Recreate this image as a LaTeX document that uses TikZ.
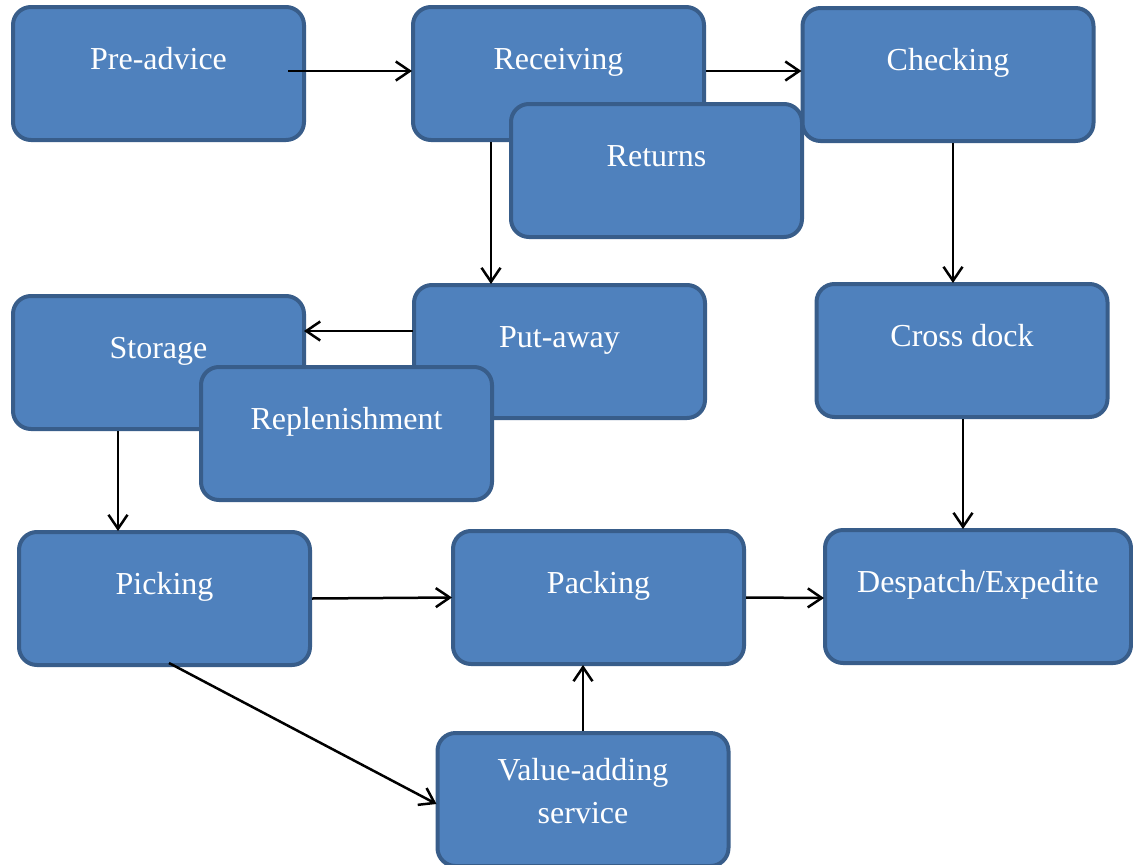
\documentclass[tikz,border=0pt]{standalone}
\usepackage{fontspec}
\setmainfont{Liberation Serif}
\usetikzlibrary{arrows.meta,calc}
\definecolor{boxfill}{HTML}{4F81BD}
\definecolor{boxline}{HTML}{385D8A}
\tikzset{
  procbox/.style={draw=boxline, fill=boxfill, line width=4pt, rounded corners=18pt,
    inner sep=0pt, minimum width=291pt, text height=62pt, text depth=71pt,
    text=white, anchor=base, font=\fontsize{32}{43}\selectfont},
  arr/.style={draw=black, line width=2.5pt, -{Straight Barb[length=14pt,width=19pt]}}
}
\begin{document}
\begin{tikzpicture}[x=1pt,y=-1pt]
\clip (0,0) rectangle (1133,865);
\fill[white] (0,0) rectangle (1133,865);
% boxes (position = text baseline, box top + 64)
\node[procbox] (pre) at (158.5,69) {Pre-advice};
\node[procbox] (rec) at (558.5,69) {Receiving};
\node[procbox] (ret) at (656.5,166) {Returns};
\node[procbox] (chk) at (948,70) {Checking};
\node[procbox] (put) at (559.5,347) {Put-away};
\node[procbox] (sto) at (158.5,358) {Storage};
\node[procbox] (rep) at (346.5,429) {Replenishment};
\node[procbox] (crs) at (962,346) {Cross dock};
\node[procbox] (pick) at (164.5,594) {Picking};
\node[procbox] (pack) at (598.5,593) {Packing};
\node[procbox, minimum width=306pt] (desp) at (978,592) {Despatch/Expedite};
\node[procbox, text height=47pt, text depth=86pt] (val) at (583,780)
  {\begin{tabular}[t]{@{}c@{}}Value-adding\\service\end{tabular}};
% connectors
\draw[arr] ($(pre.east)+(-18,-2.5)$) -- ($(rec.west)+(1,-2.5)$);
\draw[arr] ($(rec.east)+(0,-2.5)$) -- ($(chk.west)+(1,-3.5)$);
\draw[arr] ($(rec.south)+(-67.5,0)$) -- ($(put.north)+(-68.5,1)$);
\draw[arr] ($(chk.south)+(5,0)$) -- ($(crs.north)+(-9,1)$);
\draw[arr] ($(put.west)+(1,-20.5)$) -- ($(sto.east)+(-2,-31.5)$);
\draw[arr] ($(sto.south)+(-40.5,0)$) -- ($(pick.north)+(-46.5,1)$);
\draw[arr] ($(crs.south)+(1,0)$) -- ($(desp.north)+(-15,1)$);
\draw[arr] (pick.east) -- ($(pack.west)+(1,0)$);
\draw[arr] (pack.east) -- ($(desp.west)+(1,1.5)$);
\draw[arr] (val.north) -- ($(pack.south)+(-15.5,-1)$);
\draw[arr] ($(pick.south)+(4.5,-4)$) -- ($(val.west)+(1,4.5)$);
\end{tikzpicture}
\end{document}
